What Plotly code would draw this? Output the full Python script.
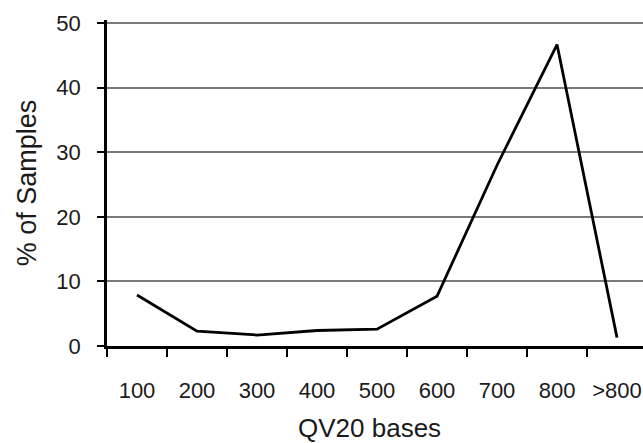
import plotly.graph_objects as go

categories = ["100", "200", "300", "400", "500", "600", "700", "800", ">800"]
pct_samples = [7.9, 2.3, 1.7, 2.4, 2.6, 7.7, 28.0, 46.7, 1.3]
y_ticks = [0, 10, 20, 30, 40, 50]
x_title = "QV20 bases"
y_title = "% of Samples"

fig = go.Figure()
fig.add_trace(go.Scatter(
    x=categories, y=pct_samples, mode="lines",
    line=dict(color="black", width=2.8),
    showlegend=False, hoverinfo="skip",
))

font_family = "Liberation Sans, Arial, sans-serif"
fig.update_layout(
    width=643, height=443,
    margin=dict(l=107, r=0, t=20, b=97),
    paper_bgcolor="white", plot_bgcolor="white",
    font=dict(family=font_family, color="#1a1a1a", size=22),
)
fig.update_xaxes(
    type="category",
    range=[-0.5, 8.433],
    tickson="boundaries",
    ticks="outside", ticklen=8, tickwidth=2, tickcolor="black",
    showline=True, linecolor="black", linewidth=2.5,
    showgrid=False, zeroline=False,
    tickfont=dict(size=22),
    ticklabelstandoff=23,
    automargin=False,
)
fig.update_yaxes(
    range=[0, 50.5],
    tickvals=y_ticks,
    ticks="outside", ticklen=7, tickwidth=2, tickcolor="black",
    showline=True, linecolor="black", linewidth=2.5,
    showgrid=True, gridcolor="#7a7a7a", gridwidth=1.5,
    zeroline=False,
    tickfont=dict(size=22),
    ticklabelstandoff=12,
    automargin=False,
    title=dict(text=y_title, font=dict(size=27), standoff=12),
)
fig.add_annotation(
    text=x_title, xref="paper", yref="paper", x=0.49, y=-0.252,
    xanchor="center", yanchor="middle", showarrow=False,
    font=dict(size=26, family=font_family, color="#1a1a1a"),
)

fig.write_html("out.html", config={"displayModeBar": False},
               post_script="document.body.style.margin='0';")
